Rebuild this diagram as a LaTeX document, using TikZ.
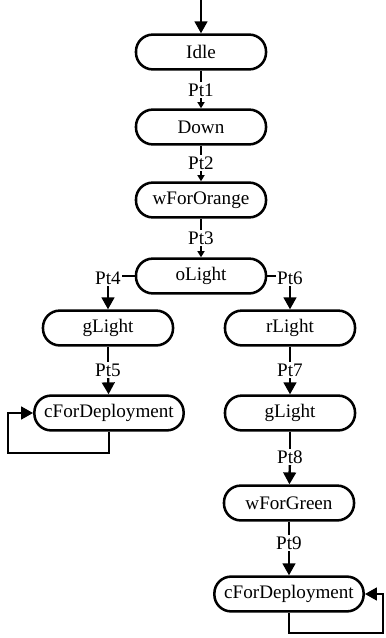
\documentclass[tikz,border=0pt]{standalone}
\usepackage{fontspec}
\setmainfont{Liberation Serif}
\usetikzlibrary{arrows.meta}

\begin{document}
\begin{tikzpicture}
[x=0.025cm, y=-0.025cm,
 statenode/.style={rectangle, rounded corners=0.42cm, draw=black, line width=1.8pt, minimum width=3.25cm, minimum height=0.87cm, inner xsep=7pt, font=\fontsize{13.6}{16}\selectfont},
 ptnode/.style={inner sep=1pt, font=\fontsize{13.6}{16}\selectfont},
 trans/.style={line width=1.7pt},
 bigarrow/.style={trans, -{Triangle[width=9pt,length=8.5pt]}},
 smallarrow/.style={trans, -{Triangle[width=5pt,length=4.5pt]}}]
\useasboundingbox (0,0) rectangle (386,638);
% main chain
\coordinate		(start)		at (201,0);
\node[statenode]	(idle)		at (201,52)	{Idle};
\node[ptnode]	(pt1)		at (201,90)	{Pt1};
\node[statenode]	(down)		at (201,127)	{Down};
\node[ptnode]	(pt2)		at (201,163)	{Pt2};
\node[statenode]	(wfororange)	at (201,200)	{wForOrange};
\node[ptnode]	(pt3)		at (201,238)	{Pt3};
\node[statenode]	(olight)	at (201,276)	{oLight};
% left branch
\node[ptnode]	(pt4)		at (108,278)	{Pt4};
\node[statenode]	(glightL)	at (108,328)	{gLight};
\node[ptnode]	(pt5)		at (108,370)	{Pt5};
\node[statenode]	(cdeplL)	at (109,413)	{cForDeployment};
\coordinate		(loopL)		at (8,453);
% right branch
\node[ptnode]	(pt6)		at (290,278)	{Pt6};
\node[statenode]	(rlight)	at (290,328)	{rLight};
\node[ptnode]	(pt7)		at (290,370)	{Pt7};
\node[statenode]	(glightR)	at (290,413)	{gLight};
\node[ptnode]	(pt8)		at (290,457)	{Pt8};
\node[statenode]	(wforgreen)	at (289,503)	{wForGreen};
\node[ptnode]	(pt9)		at (289,543)	{Pt9};
\node[statenode]	(cdeplR)	at (289,594)	{cForDeployment};
\coordinate		(loopR)		at (383,633);
\draw[bigarrow] (start) -- (idle.north);
\draw[trans] (idle) -- (pt1);
\draw[smallarrow] (pt1) -- (down);
\draw[trans] (down) -- (pt2);
\draw[smallarrow] (pt2) -- (wfororange);
\draw[trans] (wfororange) -- (pt3);
\draw[smallarrow] (pt3) -- (olight);
\draw[trans] (olight.west) -- (pt4.east |- olight.west);
\draw[bigarrow] (pt4) -- (glightL);
\draw[trans] (glightL) -- (pt5);
\draw[bigarrow] (pt5) -- (cdeplL);
\draw[bigarrow] (cdeplL.south) |- (loopL) |- (cdeplL.west);
\draw[trans] (olight.east) -- (pt6.west |- olight.east);
\draw[bigarrow] (pt6) -- (rlight);
\draw[trans] (rlight) -- (pt7);
\draw[bigarrow] (pt7) -- (glightR);
\draw[trans] (glightR) -- (pt8);
\draw[bigarrow] (pt8) -- (wforgreen);
\draw[trans] (wforgreen) -- (pt9);
\draw[bigarrow] (pt9) -- (cdeplR);
\draw[bigarrow] (cdeplR.south) |- (loopR) |- (cdeplR.east);
\end{tikzpicture}
\end{document}
